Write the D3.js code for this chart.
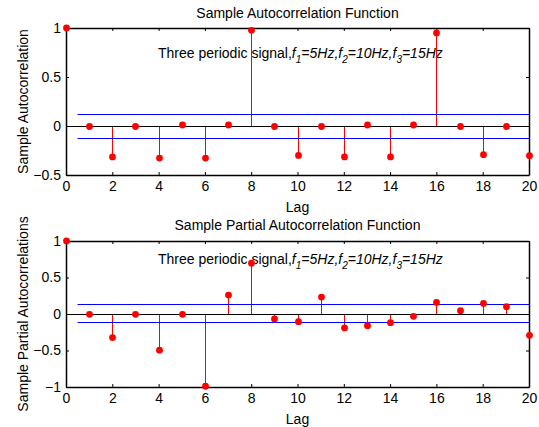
<!DOCTYPE html>
<html>
<head>
<meta charset="utf-8">
<script src="https://cdn.jsdelivr.net/npm/d3@7"></script>
<style>
  body { margin: 0; background: #fff; }
  text { font-family: "Liberation Sans", Arial, sans-serif; }
</style>
</head>
<body>
<div id="chart"></div>
<script>
// lags and sample values
var lags = d3.range(0, 21);
var acfValues = [1, -0.005, -0.316, -0.005, -0.327, 0.01, -0.327, 0.01, 0.976, -0.005,
  -0.30, -0.005, -0.316, 0.01, -0.316, 0.01, 0.949, -0.005, -0.293, -0.005, -0.303];
var pacfValues = [1, -0.005, -0.323, -0.005, -0.496, -0.005, -0.99, 0.259, 0.696, -0.068,
  -0.105, 0.232, -0.191, -0.16, -0.119, -0.032, 0.158, 0.045, 0.145, 0.10, -0.292];
var acfBounds = [0.125, -0.12];
var pacfBounds = [0.136, -0.114];
var xTicks = d3.range(0, 21, 2);
var acfTicks = [-0.5, 0, 0.5, 1];
var pacfTicks = [-1, -0.5, 0, 0.5, 1];

var width = 539, height = 427;
var svg = d3.select('#chart').append('svg')
  .attr('width', width).attr('height', height);

var x = d3.scaleLinear().domain([0, 20]).range([66, 529]);

// snap a coordinate to the pixel centre so 1px lines stay crisp
var px = function (v) { return Math.round(v) + 0.5; };

function drawPanel(cfg) {
  var y = d3.scaleLinear().domain(cfg.domain).range([cfg.bottom, cfg.top]);
  var g = svg.append('g');

  // annotation (under the stems)
  var note = g.append('text').attr('x', 158).attr('y', y(0.75) + 5)
    .attr('font-size', 14).attr('fill', '#000');
  note.append('tspan').text('Three periodic signal,');
  var parts = [['f', '1', '=5Hz,'], ['f', '2', '=10Hz,'], ['f', '3', '=15Hz']];
  parts.forEach(function (p) {
    note.append('tspan').attr('font-style', 'italic').text(p[0]);
    note.append('tspan').attr('font-style', 'italic').attr('font-size', 10).attr('dy', 5).text(p[1]);
    note.append('tspan').attr('font-style', 'italic').attr('dy', -5).text(p[2]);
  });

  // stems
  g.selectAll('line.stem').data(cfg.values).enter().append('line')
    .attr('class', 'stem')
    .attr('x1', function (d, i) { return px(x(lags[i])); })
    .attr('x2', function (d, i) { return px(x(lags[i])); })
    .attr('y1', y(0))
    .attr('y2', function (d) { return y(d); })
    .attr('stroke', '#ff0000').attr('stroke-width', 1);

  // confidence bounds
  g.selectAll('line.bound').data(cfg.bounds).enter().append('line')
    .attr('class', 'bound')
    .attr('x1', x(0.5)).attr('x2', x(20))
    .attr('y1', function (d) { return px(y(d)); })
    .attr('y2', function (d) { return px(y(d)); })
    .attr('stroke', '#0000ff').attr('stroke-width', 1);

  // zero line
  g.append('line').attr('x1', x(0)).attr('x2', x(20))
    .attr('y1', px(y(0))).attr('y2', px(y(0)))
    .attr('stroke', '#000').attr('stroke-width', 1);

  // axes box with inward ticks
  var axB = g.append('g').attr('transform', 'translate(0,' + cfg.bottom + ')')
    .call(d3.axisBottom(x).tickValues(xTicks).tickSizeInner(-3).tickSizeOuter(0).tickPadding(6));
  var axT = g.append('g').attr('transform', 'translate(0,' + cfg.top + ')')
    .call(d3.axisTop(x).tickValues(xTicks).tickSizeInner(-3).tickSizeOuter(0).tickFormat(''));
  var axL = g.append('g').attr('transform', 'translate(' + x(0) + ',0)')
    .call(d3.axisLeft(y).tickValues(cfg.ticks).tickSizeInner(-3).tickSizeOuter(0).tickPadding(5)
      .tickFormat(function (d) { return d3.format('')(d); }));
  var axR = g.append('g').attr('transform', 'translate(' + x(20) + ',0)')
    .call(d3.axisRight(y).tickValues(cfg.ticks).tickSizeInner(-3).tickSizeOuter(0).tickFormat(''));
  [axB, axT, axL, axR].forEach(function (a) {
    a.select('.domain').attr('stroke', '#000').attr('stroke-width', 1.5);
    a.selectAll('.tick line').attr('stroke', '#000');
    a.selectAll('.tick text').attr('font-size', 14).attr('fill', '#000')
      .style('font-family', '"Liberation Sans", Arial, sans-serif');
  });

  // markers
  g.selectAll('circle').data(cfg.values).enter().append('circle')
    .attr('cx', function (d, i) { return px(x(lags[i])); })
    .attr('cy', function (d) { return y(d); })
    .attr('r', 3.4).attr('fill', '#ff0000');

  // titles and labels
  g.append('text').attr('x', (x(0) + x(20)) / 2).attr('y', cfg.top - cfg.titleGap)
    .attr('text-anchor', 'middle').attr('font-size', 14).text(cfg.title);
  g.append('text').attr('x', (x(0) + x(20)) / 2).attr('y', cfg.bottom + 37)
    .attr('text-anchor', 'middle').attr('font-size', 14).text('Lag');
  g.append('text').attr('transform', 'translate(28,' + (cfg.top + cfg.bottom) / 2 + ') rotate(-90)')
    .attr('text-anchor', 'middle').attr('font-size', 14).text(cfg.yLabel);
}

drawPanel({
  values: acfValues, bounds: acfBounds, ticks: acfTicks, domain: [-0.5, 1],
  top: 28, bottom: 175, titleGap: 10,
  title: 'Sample Autocorrelation Function', yLabel: 'Sample Autocorrelation'
});
drawPanel({
  values: pacfValues, bounds: pacfBounds, ticks: pacfTicks, domain: [-1, 1],
  top: 241, bottom: 387, titleGap: 11,
  title: 'Sample Partial Autocorrelation Function', yLabel: 'Sample Partial Autocorrelations'
});
</script>
</body>
</html>
